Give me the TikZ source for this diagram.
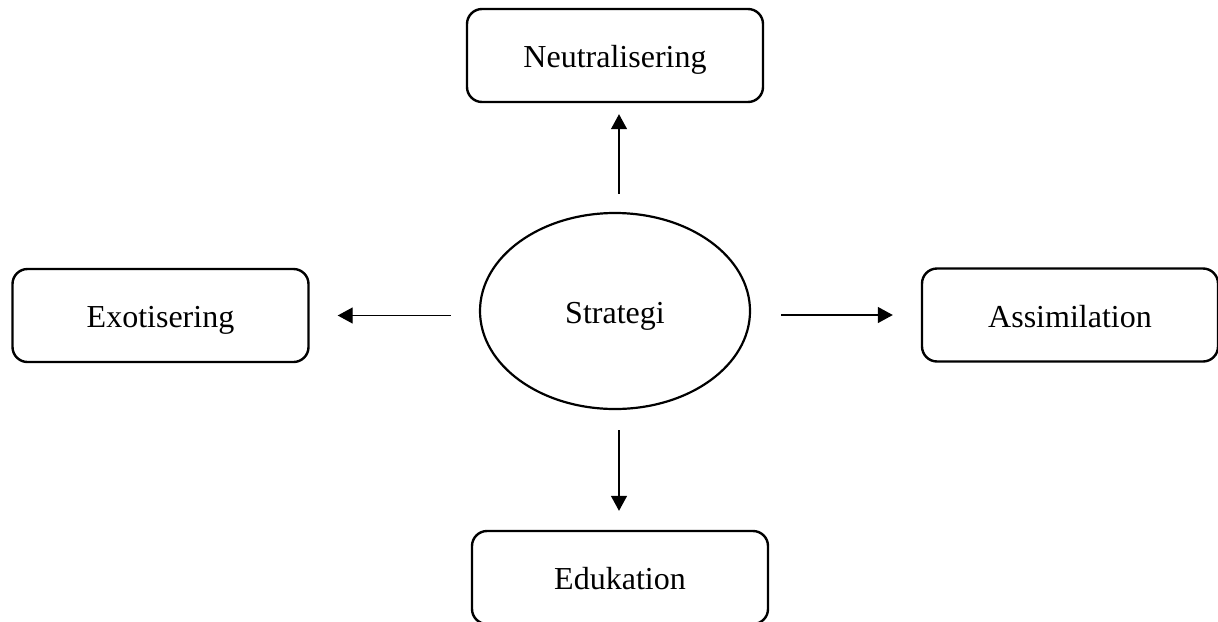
\documentclass[tikz,border=0pt]{standalone}
\usepackage{fontspec}
\setmainfont{Liberation Serif}
\usetikzlibrary{shapes.geometric,arrows.meta}

\tikzset{
    box/.style={draw, line width=1.2pt, rounded corners=7.5pt, minimum width=148pt, minimum height=46.5pt, inner sep=0pt, text height=13pt, text depth=1pt},
    oval/.style={draw, ellipse, line width=1.1pt, minimum width=135pt, minimum height=98pt, inner sep=0pt, text height=13pt, text depth=1pt},
    arr/.style={line width=0.65pt, -{Triangle[length=7.5pt,width=8pt]}}
}

\begin{document}
\begin{tikzpicture}[x=0.5pt, y=-0.5pt, font=\fontsize{16}{19}\selectfont]
    \useasboundingbox (0,0) rectangle (1218,621);
%%   kw   (name)   (x, y)   {text}
    \node[oval] (strat) at (615,311) {Strategi};
    \node[box]  (neut)  at (615,55.5) {Neutralisering};
    \node[box]  (exot)  at (160.5,315.5) {Exotisering};
    \node[box]  (assim) at (1070,315) {Assimilation};
    \node[box]  (eduk)  at (620,577.5) {Edukation};
    \draw[arr, shorten <=9pt, shorten >=5.5pt] ([xshift=2pt]strat.north) -- ([xshift=2pt]neut.south);
    \draw[arr, shorten <=14pt, shorten >=14pt] (strat.west |- exot.east) -- (exot.east);
    \draw[arr, shorten <=15pt, shorten >=14pt] (strat.east |- assim.west) -- (assim.west);
    \draw[arr, shorten <=10pt, shorten >=9.5pt] ([xshift=2pt]strat.south) -- ([xshift=2pt]strat.south |- eduk.north);
\end{tikzpicture}
\end{document}
